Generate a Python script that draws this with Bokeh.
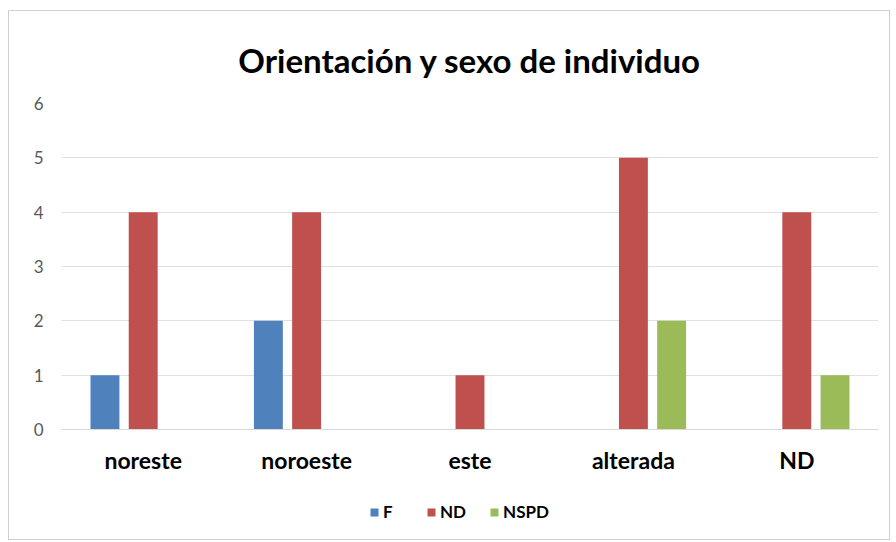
from bokeh.plotting import figure
from bokeh.layouts import column
from bokeh.models import ColumnDataSource, FactorRange, Range1d, FixedTicker, Legend, LegendItem
from bokeh.transform import dodge
from bokeh.embed import file_html
from bokeh.resources import INLINE

categories = ["noreste", "noroeste", "este", "alterada", "ND"]
series_names = ["F", "ND", "NSPD"]
values_F = [1, 2, 0, 0, 0]
values_ND = [4, 4, 1, 5, 4]
values_NSPD = [0, 0, 0, 2, 1]
y_ticks = [0, 1, 2, 3, 4, 5, 6]
colors = ["#4F81BD", "#C0504D", "#9BBB59"]

source = ColumnDataSource(dict(cat=categories, F=values_F, ND=values_ND, NSPD=values_NSPD))

p = figure(
    x_range=FactorRange(*categories, range_padding=0),
    y_range=Range1d(0, 6),
    width=880, height=480,
    output_backend="svg", toolbar_location=None,
    min_border_left=52, min_border_right=11, min_border_top=92, min_border_bottom=62,
)

p.title.text = "Orientación y sexo de individuo"
p.title.align = "center"
p.title.text_font = "Lato"
p.title.text_font_size = "33px"
p.title.text_font_style = "bold"
p.title.text_color = "#000000"
p.title.standoff = 48
p.title.offset = -3

offsets = [-0.234, 0.0, 0.234]
for name, off, col in zip(series_names, offsets, colors):
    p.vbar(x=dodge("cat", off, range=p.x_range), top=name, width=0.177,
           source=source, fill_color=col, line_color=None)

p.yaxis.ticker = FixedTicker(ticks=y_ticks)
p.yaxis.axis_line_color = None
p.yaxis.major_tick_line_color = None
p.yaxis.minor_tick_line_color = None
p.yaxis.major_label_text_font = "Lato"
p.yaxis.major_label_text_font_size = "17px"
p.yaxis.major_label_text_color = "#595959"
p.yaxis.major_label_standoff = 12

p.xaxis.axis_line_color = "#d9d9d9"
p.xaxis.major_tick_line_color = None
p.xaxis.minor_tick_line_color = None
p.xaxis.major_label_text_font = "Lato"
p.xaxis.major_label_text_font_size = "23px"
p.xaxis.major_label_text_font_style = "bold"
p.xaxis.major_label_text_color = "#000000"
p.xaxis.major_label_standoff = 10

p.xgrid.grid_line_color = None
p.ygrid.grid_line_color = "#e0e0e0"
p.outline_line_color = None

# legend strip below the chart (same data source, bars out of view)
pl = figure(
    x_range=p.x_range, y_range=Range1d(100, 101),
    width=880, height=48,
    output_backend="svg", toolbar_location=None,
    x_axis_location=None, y_axis_location=None, min_border=0,
)
pl.xgrid.grid_line_color = None
pl.ygrid.grid_line_color = None
pl.outline_line_color = None
legend_renderers = []
for name, off, col in zip(series_names, offsets, colors):
    r = pl.vbar(x=dodge("cat", off, range=pl.x_range), top=name, width=0.177,
                source=source, fill_color=col, line_color=None)
    legend_renderers.append(r)

legend = Legend(
    items=[LegendItem(label=n, renderers=[r]) for n, r in zip(series_names, legend_renderers)],
    orientation="horizontal", location=(308, 17),
    glyph_width=10, glyph_height=10, label_standoff=4, spacing=23,
    padding=0, margin=0, border_line_color=None, background_fill_alpha=0,
    label_text_font="Lato", label_text_font_size="17px", label_text_font_style="bold",
    label_text_color="#000000",
)
pl.add_layout(legend, "center")

layout = column(p, pl, spacing=0, margin=(10, 0, 0, 8))
layout.styles = {"border": "1px solid #d0d0d0"}

open("out.html", "w").write(file_html(layout, INLINE))
